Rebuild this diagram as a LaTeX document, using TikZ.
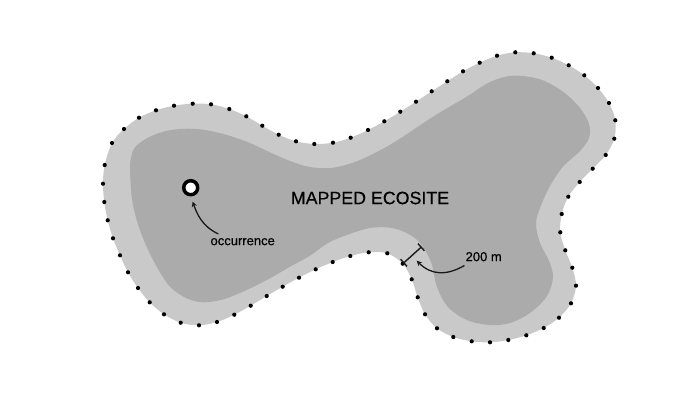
\documentclass[tikz,border=0pt]{standalone}
\usepackage{fontspec}
\setmainfont{Liberation Sans}
\newfontfamily\mapfont[FakeBold=0.4]{Liberation Sans}
\tikzset{
    curvearrow/.style={-stealth, line width=1.3pt, black!90},
    capbar/.style={|-|, line width=1.4pt, black!90}
}
\def\outerline{(192.7,103.7) (211,104.3) (229.3,109) (246.3,116.3) (262.3,125.7) (278.7,134.7) (296,141.3) (314.3,144) (333,142.7) (350.7,137.7) (368,130) (384.3,121.3) (400.3,111.7) (416,101.7) (431.7,91.3) (447.3,81.3) (463,71.3) (479.7,62.7) (497,55.7) (515.3,52.3) (533.7,53.3) (551.7,57.7) (568.7,65.3) (584.3,75.3) (598,88) (609,103) (615.3,120.3) (614.3,138.7) (605.7,155) (592.7,168.7) (579.7,182) (568.3,196.7) (561.7,214) (560.3,232.3) (565.3,250.3) (572.3,267.7) (576,285.7) (571,303.3) (559,317.7) (543.7,328) (526.3,335.3) (508.3,340) (490,342.3) (471.7,341.3) (453.3,337) (437,328.3) (425,314.3) (417.7,297.3) (411.7,279.3) (402.7,263.7) (387.3,253.3) (368.7,252.3) (350.3,256) (332.7,262) (315.7,269.3) (299,277.7) (282.7,286.7) (266.7,296) (250.7,305.7) (234.3,314.7) (217,322) (199,325.3) (180.7,322.7) (164,314.3) (149.7,302.3) (138,288) (128,272.3) (120,255.3) (113,238.3) (107.7,220.3) (104.3,202) (103,183.7) (104.7,165) (112,143) (124,129) (139,117.7) (156,110.3) (174,105.7)}
\def\innerline{(180,129) (200,129.3) (223.3,134) (246.7,141.7) (270,152.3) (290,161) (310,167) (333,167.7) (360,160) (393,143) (433,116.7) (466.7,96.7) (490,82) (513,75.7) (540,79.3) (563,91.7) (580,108) (589,124) (589,138) (580,151) (563,166.7) (550,186) (540,208) (536,224) (540,243) (549,261) (553,277) (547,296) (530,313) (510,323) (490,325) (466.7,320) (448,307) (437,287) (431,262) (420,243) (406.7,233) (390,227.7) (370,228) (346.7,235) (328,243) (310,255.7) (290,266.7) (270,278.3) (246.7,290) (223.3,299.3) (203.3,302.3) (186.7,298.3) (170,286.7) (156.7,266.7) (145,243) (136.7,220) (131.7,196.7) (130,166.7) (131.7,155) (135,147.3) (146.7,138.3) (163.3,131.7)}

\begin{document}
\begin{tikzpicture}[x=1pt, y=-1pt]
    \useasboundingbox (0,0) rectangle (700,415);

    % Buffer strip
    \fill[black!21] plot[smooth cycle, tension=0.55] coordinates {\outerline};

    % Ecosite core
    \fill[black!33] plot[smooth cycle, tension=0.55] coordinates {\innerline};

    % Dots along the edge
    \foreach \px/\py in {192.7/103.7, 211/104.3, 229.3/109, 246.3/116.3, 262.3/125.7, 278.7/134.7, 296/141.3, 314.3/144, 333/142.7, 350.7/137.7, 368/130, 384.3/121.3, 400.3/111.7, 416/101.7, 431.7/91.3, 447.3/81.3, 463/71.3, 479.7/62.7, 497/55.7, 515.3/52.3, 533.7/53.3, 551.7/57.7, 568.7/65.3, 584.3/75.3, 598/88, 609/103, 615.3/120.3, 614.3/138.7, 605.7/155, 592.7/168.7, 579.7/182, 568.3/196.7, 561.7/214, 560.3/232.3, 565.3/250.3, 572.3/267.7, 576/285.7, 571/303.3, 559/317.7, 543.7/328, 526.3/335.3, 508.3/340, 490/342.3, 471.7/341.3, 453.3/337, 437/328.3, 425/314.3, 417.7/297.3, 411.7/279.3, 402.7/263.7, 387.3/253.3, 368.7/252.3, 350.3/256, 332.7/262, 315.7/269.3, 299/277.7, 282.7/286.7, 266.7/296, 250.7/305.7, 234.3/314.7, 217/322, 199/325.3, 180.7/322.7, 164/314.3, 149.7/302.3, 138/288, 128/272.3, 120/255.3, 113/238.3, 107.7/220.3, 104.3/202, 103/183.7, 104.7/165, 112/143, 124/129, 139/117.7, 156/110.3, 174/105.7}
        \fill[black] (\px,\py) circle (2.1);

    % Occurrence
    \node[circle, draw=black, fill=white, line width=3.5pt, minimum size=14pt, inner sep=0pt] (ring) at (190.7,187.7) {};
    \node[font=\mapfont\fontsize{13}{15}\selectfont, inner sep=1pt] (occlabel) at (242.7,241.7) {occurrence};
    \path (occlabel.north west) ++(9,-3) coordinate (occstart);
    \draw[curvearrow, shorten >=5.5pt] (occstart) to[out=155, in=-70] (ring.south);

    % Width of the strip
    \coordinate (barlow) at (403.3,263.3);
    \coordinate (barhigh) at (421.7,246.7);
    \draw[capbar] (barlow) -- (barhigh);
    \node[font=\mapfont\fontsize{13}{15}\selectfont, inner sep=1pt] (distlabel) at (483.7,256.7) {200 m};
    \coordinate (distend) at (416.7,260.7);
    \path (distlabel.south west) ++(0,3) coordinate (diststart);
    \draw[curvearrow] (diststart) to[out=-150, in=-45, looseness=1.1] (distend);

    % Title
    \node[font=\mapfont\fontsize{17.8}{20}\selectfont] (title) at (370,198) {MAPPED ECOSITE};
\end{tikzpicture}
\end{document}
